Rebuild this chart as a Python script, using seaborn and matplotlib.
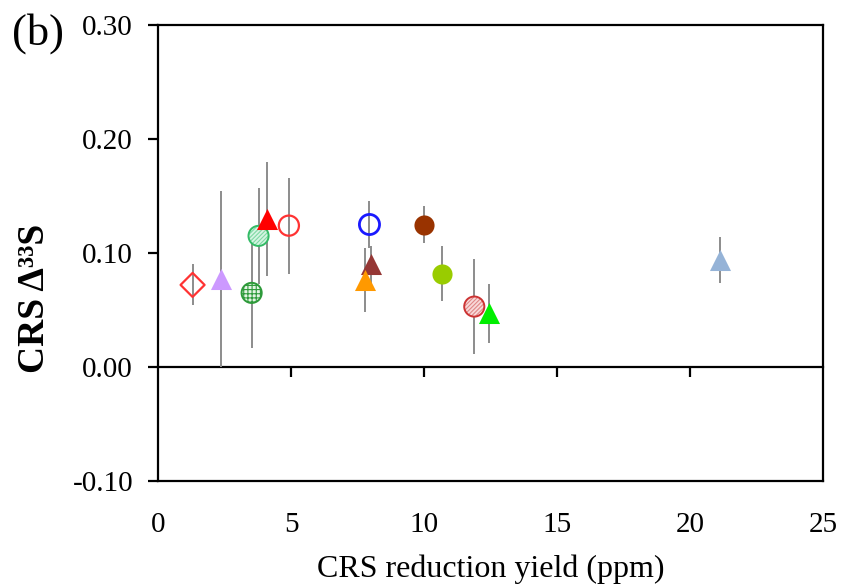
import numpy as np
import pandas as pd
import matplotlib
matplotlib.use("Agg")
import matplotlib.pyplot as plt
import seaborn as sns

# CRS reduction yield (ppm) and CRS Δ33S with 1σ uncertainty
yield_ppm = [1.30, 2.36, 3.52, 3.78, 4.11, 4.92, 7.95, 8.01, 7.78, 10.01, 10.66, 11.89, 12.44, 21.13]
d33s = [0.072, 0.077, 0.065, 0.115, 0.130, 0.124, 0.125, 0.090, 0.076, 0.125, 0.082, 0.053, 0.047, 0.094]
d33s_err = [0.018, 0.077, 0.048, 0.042, 0.050, 0.042, 0.021, 0.016, 0.028, 0.016, 0.024, 0.042, 0.026, 0.020]

# symbol per sample
markers = ["D", "^", "o", "o", "^", "o", "o", "^", "^", "o", "o", "o", "^", "^"]
faces = ["none", "#CC99FF", "#E4F4E4", "#D6F5E3", "#FF0000", "none", "none", "#953735",
         "#FF9900", "#993300", "#99CC00", "#F8DADA", "#00EE00", "#95B3D7"]
edges = ["#FF3333", "#CC99FF", "#2E9A3A", "#33BB66", "#FF0000", "#FF3333", "#1A1AFF", "#953735",
         "#FF9900", "#993300", "#99CC00", "#CC3333", "#00EE00", "#95B3D7"]
hatches = [None, None, "++++", "////////", None, None, None, None, None, None, None, "////////", None, None]
hatch_colors = [None, None, "#2E9A3A", "#7FD8A4", None, None, None, None, None, None, None, "#E08888", None, None]
edge_widths = [1.6, 0, 1.4, 1.4, 0, 1.6, 2.0, 0, 0, 0, 0, 1.4, 0, 0]

x_ticks = [0, 5, 10, 15, 20, 25]
y_ticks = [-0.10, 0.00, 0.10, 0.20, 0.30]

sns.set_theme(style="white")
plt.rcParams["font.family"] = ["Liberation Serif", "DejaVu Serif"]
plt.rcParams["hatch.linewidth"] = 0.8

df = pd.DataFrame({"yield": yield_ppm, "d33s": d33s, "err": d33s_err})

fig = plt.figure(figsize=(8.42, 5.84), dpi=100)
ax = fig.add_axes([158 / 842, 1 - 481 / 584, 665 / 842, 456 / 584])

ax.errorbar(df["yield"], df["d33s"], yerr=df["err"], fmt="none",
            ecolor="#8C8C8C", elinewidth=1.4, capsize=0, zorder=2)

sizes = {"o": 210, "^": 230, "D": 150}
for i, row in df.iterrows():
    z = 3 + i * 0.01
    sns.scatterplot(x=[row["yield"]], y=[row["d33s"]], marker=markers[i], s=sizes[markers[i]],
                    color=edges[i], ax=ax, legend=False, zorder=z)
    pts = ax.collections[-1]
    pts.set_facecolor(faces[i])
    if hatches[i]:
        # patterned fill first, outline drawn on top
        pts.set_edgecolor(hatch_colors[i])
        pts.set_linewidth(0)
        pts.set_hatch(hatches[i])
        sns.scatterplot(x=[row["yield"]], y=[row["d33s"]], marker=markers[i], s=sizes[markers[i]],
                        color=edges[i], ax=ax, legend=False, zorder=z + 0.001)
        rim = ax.collections[-1]
        rim.set_facecolor("none")
        rim.set_edgecolor(edges[i])
        rim.set_linewidth(edge_widths[i])
    else:
        pts.set_edgecolor(edges[i])
        pts.set_linewidth(edge_widths[i])

ax.set_xlim(0, 25)
ax.set_ylim(-0.10, 0.30)
ax.set_xticks(x_ticks)
ax.set_xticklabels([f"{t:d}" for t in x_ticks])
ax.set_yticks(y_ticks)
ax.set_yticklabels([f"{t:.2f}" for t in y_ticks])

for side in ["left", "right", "top", "bottom"]:
    ax.spines[side].set_visible(True)
    ax.spines[side].set_color("black")
    ax.spines[side].set_linewidth(1.6)

ax.tick_params(axis="x", length=0, labelsize=21, pad=22, colors="black")
ax.tick_params(axis="y", direction="out", length=7, width=1.6, labelsize=21, pad=11,
               colors="black", left=True)

# horizontal axis line through zero with its own ticks
zero_axis = ax.secondary_xaxis(0, transform=ax.transData)
zero_axis.set_xticks(x_ticks[1:-1])
zero_axis.tick_params(direction="out", length=7, width=1.6, labelbottom=False, colors="black")
zero_axis.spines["bottom"].set_linewidth(1.6)
zero_axis.spines["bottom"].set_color("black")

ax.set_xlabel("CRS reduction yield (ppm)", fontsize=23, labelpad=12, color="black")
ax.set_ylabel("CRS Δ³³S", fontsize=27, fontweight="bold", color="black")
ax.yaxis.set_label_coords(-0.16, 0.40)

fig.text(38 / 842, 1 - 34 / 584, "(b)", fontsize=32, ha="center", va="center", color="black")

fig.savefig("out.png", dpi=100, facecolor="white")
